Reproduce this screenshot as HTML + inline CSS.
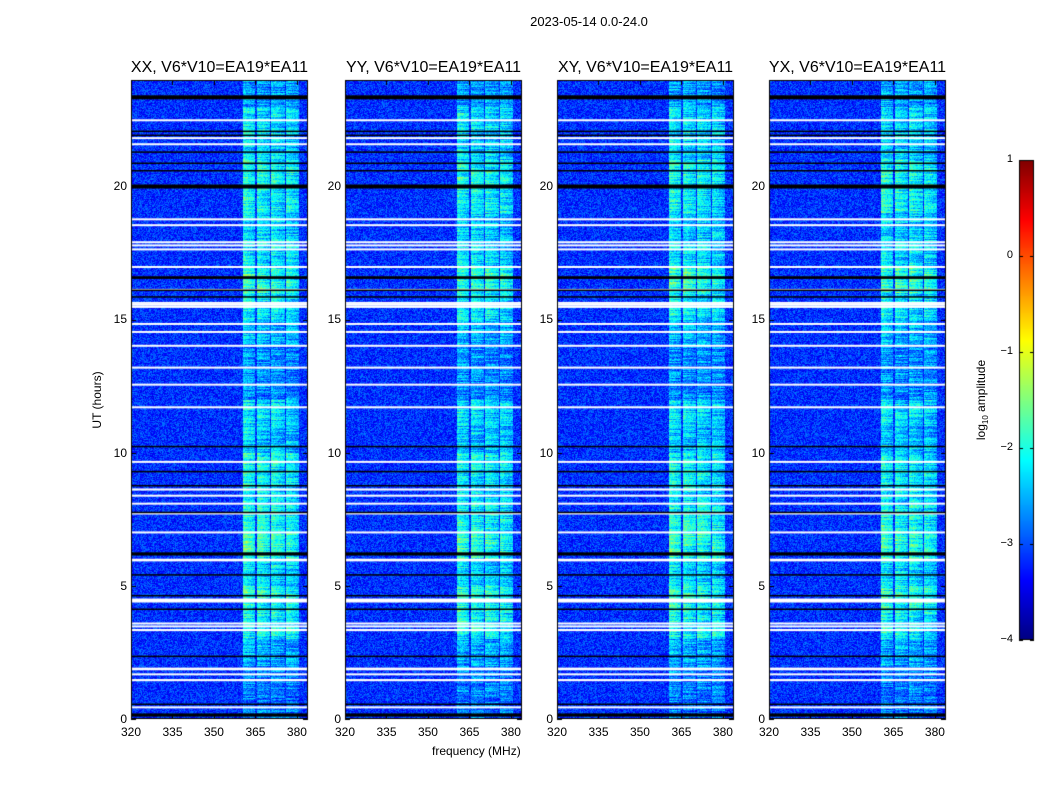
<!DOCTYPE html>
<html><head><meta charset="utf-8"><style>
body{margin:0;background:#fff;font-family:"Liberation Sans",sans-serif;}
#wrap{position:relative;width:1050px;height:800px;overflow:hidden;}
.t{position:absolute;white-space:nowrap;color:#000;}
canvas{position:absolute;left:0;top:0;}
</style></head><body>
<div id="wrap">
<canvas id="c" width="1050" height="800"></canvas>
<div class="t" style="left:0;width:1178px;top:14px;font-size:13px;text-align:center">2023-05-14 0.0-24.0</div>
<div class="t" style="left:432px;top:744px;font-size:12px">frequency (MHz)</div>
<div class="t" style="left:97px;top:400px;font-size:12px;transform:translate(-50%,-50%) rotate(-90deg)">UT (hours)</div>
<div class="t" style="left:982px;top:400px;font-size:12px;transform:translate(-50%,-50%) rotate(-90deg)">log<sub style="font-size:8px">10</sub> amplitude</div>
<div id="labels"></div>
</div>
<script>
const panelTitles=["XX, V6*V10=EA19*EA11","YY, V6*V10=EA19*EA11","XY, V6*V10=EA19*EA11","YX, V6*V10=EA19*EA11"];
const panelGain=[1.0,0.95,0.97,0.97];
const xTicks=[320,335,350,365,380];
const yTicks=[0,5,10,15,20];
const cbTicks=[1,0,-1,-2,-3,-4];
// band brightness (log10 amplitude) per hour bin 0..23
const bandLevel=[-2.6,-2.5,-2.2,-1.6,-1.4,-1.8,-1.3,-1.5,-1.7,-1.6,-2.0,-1.8,-2.4,-2.4,-2.1,-1.7,-1.3,-1.8,-1.9,-1.6,-1.5,-1.9,-1.8,-2.3];
// subbands (MHz start, end) and relative strength
const subStart=[360.4,365.4,370.8,376.0];
const subEnd=[365.0,370.2,375.6,380.6];
const subGain=[1.0,0.95,0.9,0.85];
const bgLevel=-3.15;
// flagged (white) rows in hours and duration
const whiteHours=[22.5,21.83,21.6,18.78,18.56,17.92,17.8,17.65,16.99,16.13,15.64,15.57,15.49,14.85,14.55,14.03,13.21,12.57,11.72,9.67,8.62,8.4,8.1,7.73,7.02,5.97,4.45,3.6,3.49,3.34,1.88,1.69,1.46,0.45];
const whiteDur=[0.05,0.05,0.05,0.05,0.05,0.05,0.05,0.05,0.05,0.05,0.05,0.05,0.05,0.05,0.05,0.05,0.05,0.05,0.05,0.05,0.08,0.05,0.05,0.05,0.05,0.1,0.15,0.05,0.05,0.08,0.1,0.05,0.08,0.05];
// dropped (black) rows
const blackHours=[23.35,22.08,21.93,21.3,20.88,20.6,20.0,16.58,16.11,15.86,10.24,9.3,8.77,7.76,6.2,5.42,4.64,4.13,2.36,0.56,0.15];
const blackDur=[0.15,0.04,0.04,0.04,0.04,0.04,0.15,0.1,0.04,0.04,0.04,0.04,0.04,0.05,0.12,0.04,0.04,0.04,0.04,0.04,0.12];

const panelX=[131,345,557,769], PW=177, PT=80, PB=719;
const fMin=320, fMax=384, tMin=0, tMax=24;
const cbX=1019, cbW=15, cbTop=160, cbBot=640, vMin=-4, vMax=1;
function xs(p,f){return panelX[p]+(f-fMin)/(fMax-fMin)*PW;}
function ys(h){return PB-(h-tMin)/(tMax-tMin)*(PB-PT);}
function cy(v){return cbBot-(v-vMin)/(vMax-vMin)*(cbBot-cbTop);}
function cl(x){return Math.max(0,Math.min(1,x));}
function jet(t){return [cl(1.5-Math.abs(4*t-3)),cl(1.5-Math.abs(4*t-2)),cl(1.5-Math.abs(4*t-1))];}
function hash(a,b,c){let h=(a*374761393+b*668265263+c*982451653)|0;h=(h^(h>>>13))*1274126177|0;return ((h^(h>>>16))>>>0)/4294967296;}

const cv=document.getElementById('c'),ctx=cv.getContext('2d');
const img=ctx.createImageData(1050,800);
for(let i=0;i<img.data.length;i++)img.data[i]=255;
for(let p=0;p<4;p++){
  for(let y=PT;y<PB;y++){
    const h=(PB-y-0.5)/(PB-PT)*24;
    const bl=bandLevel[Math.min(23,Math.floor(h))];
    for(let x=panelX[p];x<panelX[p]+PW;x++){
      const f=fMin+(x-panelX[p]+0.5)/PW*(fMax-fMin);
      let v=bgLevel+(hash(x,y,p)-0.5)*0.8;
      for(let s=0;s<4;s++){
        if(f>=subStart[s]&&f<=subEnd[s]){
          const rowN=(hash(p*4+s,y,7)-0.5)*0.7;
          const edge=1-0.35*(f-subStart[s])/(subEnd[s]-subStart[s]);
          const rel=(bl-bgLevel)*subGain[s]*panelGain[p]*0.85*edge;
          v=bgLevel+rel+(hash(x,y,p+11)-0.5)*0.7+rowN;
        }
      }
      const c=jet(cl((v-vMin)/(vMax-vMin)));
      const k=(y*1050+x)*4;
      img.data[k]=c[0]*255;img.data[k+1]=c[1]*255;img.data[k+2]=c[2]*255;
    }
  }
}
// colorbar
for(let y=cbTop;y<cbBot;y++){const c=jet((cbBot-y)/(cbBot-cbTop));for(let x=cbX;x<cbX+cbW;x++){const k=(y*1050+x)*4;img.data[k]=c[0]*255;img.data[k+1]=c[1]*255;img.data[k+2]=c[2]*255;}}
ctx.putImageData(img,0,0);
for(let p=0;p<4;p++){
  ctx.fillStyle='#fff';
  whiteHours.forEach((h,i)=>{const y0=ys(h+whiteDur[i]/2),y1=ys(h-whiteDur[i]/2);ctx.fillRect(panelX[p],y0,PW,Math.max(2,y1-y0));});
  ctx.fillStyle='#000';
  blackHours.forEach((h,i)=>{const y0=ys(h+blackDur[i]/2),y1=ys(h-blackDur[i]/2);ctx.fillRect(panelX[p],y0,PW,Math.max(1.5,y1-y0));});
  ctx.strokeStyle='#000';ctx.lineWidth=1;
  ctx.strokeRect(panelX[p]+0.5,PT+0.5,PW-1,PB-PT-1);
  ctx.beginPath();
  xTicks.forEach(t=>{const x=Math.round(xs(p,t))+0.5;ctx.moveTo(x,PB);ctx.lineTo(x,PB-5);ctx.moveTo(x,PT);ctx.lineTo(x,PT+5);});
  yTicks.forEach(t=>{const y=Math.round(ys(t))+0.5;ctx.moveTo(panelX[p],y);ctx.lineTo(panelX[p]+5,y);ctx.moveTo(panelX[p]+PW,y);ctx.lineTo(panelX[p]+PW-5,y);});
  ctx.stroke();
}
ctx.strokeStyle='#000';ctx.strokeRect(cbX+0.5,cbTop+0.5,cbW-1,cbBot-cbTop-1);
ctx.beginPath();cbTicks.forEach(t=>{const y=Math.round(cy(t))+0.5;ctx.moveTo(cbX,y);ctx.lineTo(cbX+4,y);ctx.moveTo(cbX+cbW,y);ctx.lineTo(cbX+cbW-4,y);});ctx.stroke();

const L=document.getElementById('labels');
function lab(txt,x,y,size,align,name){const d=document.createElement('div');d.className='t';d.textContent=txt;d.style.fontSize=size+'px';d.style.top=(y-size*0.6)+'px';
 if(align==='c'){d.style.left=x+'px';d.style.transform='translateX(-50%)';}else{d.style.right=(1050-x)+'px';}
 
 
 L.appendChild(d);}
for(let p=0;p<4;p++){
  lab(panelTitles[p],panelX[p]+PW/2,69,16,'c','panel-title');
  xTicks.forEach(t=>lab(String(t),xs(p,t),732,12,'c','x-tick-label'));
  yTicks.forEach(t=>lab(String(t),panelX[p]-4,ys(t),12,'r','y-tick-label'));
}
cbTicks.forEach(t=>lab(t<0?'\u2212'+(-t):String(t),1013,cy(t),11,'r','colorbar-tick-label'));
</script>
</body></html>
